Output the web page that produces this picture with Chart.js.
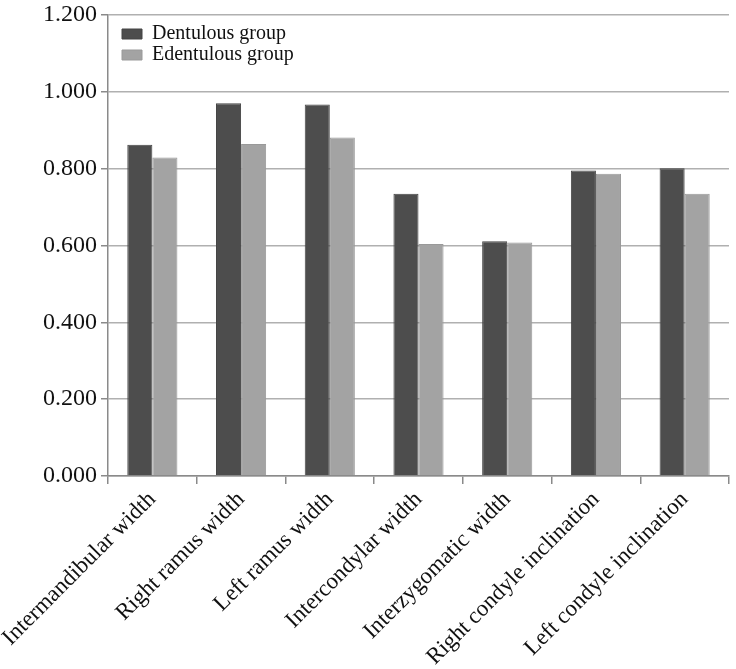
<!DOCTYPE html>
<html>
<head>
<meta charset="utf-8">
<script src="https://cdn.jsdelivr.net/npm/chart.js@4"></script>
<style>
  html, body { margin: 0; padding: 0; background: #ffffff; }
  #wrap { width: 736px; height: 669px; position: relative; }
</style>
</head>
<body>
<div id="wrap"><canvas id="c" width="736" height="669"></canvas></div>
<script>
const categories = [
  "Intermandibular width",
  "Right ramus width",
  "Left ramus width",
  "Intercondylar width",
  "Interzygomatic width",
  "Right condyle inclination",
  "Left condyle inclination"
];
const dentulous = [0.862, 0.970, 0.967, 0.735, 0.611, 0.795, 0.801];
const edentulous = [0.829, 0.864, 0.881, 0.604, 0.608, 0.787, 0.735];
const seriesNames = ["Dentulous group", "Edentulous group"];
const yTicks = { min: 0, max: 1.2, step: 0.2 };

const SERIF = "'Liberation Serif', 'DejaVu Serif', serif";

const legendShift = {
  id: 'legendShift',
  afterLayout(chart) {
    const l = chart.legend;
    if (!l) return;
    l.left += 13; l.right += 13;
    l.top += 23; l.bottom += 23;
  }
};

new Chart(document.getElementById('c'), {
  type: 'bar',
  data: {
    labels: categories,
    datasets: [
      { label: seriesNames[0], data: dentulous, backgroundColor: '#4d4d4d', borderColor: '#444444', borderWidth: 1 },
      { label: seriesNames[1], data: edentulous, backgroundColor: '#a3a3a3', borderColor: '#999999', borderWidth: 1 }
    ]
  },
  plugins: [legendShift],
  options: {
    responsive: false,
    animation: false,
    layout: { padding: { top: 15, right: 7, left: 0, bottom: 0 } },
    datasets: { bar: { categoryPercentage: 0.565, barPercentage: 1.0 } },
    plugins: {
      tooltip: { enabled: false },
      legend: {
        position: 'chartArea',
        align: 'start',
        labels: {
          boxWidth: 20,
          boxHeight: 10,
          padding: 1,
          color: '#111111',
          font: { family: SERIF, size: 20 }
        }
      }
    },
    scales: {
      x: {
        afterFit: (s) => { s.height = 193; s.paddingLeft = 0; s.paddingRight = 0; },
        border: { color: '#8a8a8a', width: 1.5 },
        grid: { display: true, drawOnChartArea: false, drawTicks: true, offset: true, tickLength: 8, color: '#8a8a8a', lineWidth: 1.5 },
        ticks: {
          minRotation: 45, maxRotation: 45, autoSkip: false,
          color: '#111111',
          padding: 2,
          font: { family: SERIF, size: 23 }
        }
      },
      y: {
        min: yTicks.min, max: yTicks.max,
        afterFit: (s) => { s.width = 108; s.paddingTop = 0; s.paddingBottom = 0; },
        border: { color: '#8a8a8a', width: 1.5 },
        grid: { color: '#b0b0b0', lineWidth: 1.5, tickLength: 7, tickColor: '#8a8a8a' },
        ticks: {
          stepSize: yTicks.step,
          color: '#111111',
          padding: 4,
          font: { family: SERIF, size: 24 },
          callback: (v) => Number(v).toFixed(3)
        }
      }
    }
  }
});
</script>
</body>
</html>
